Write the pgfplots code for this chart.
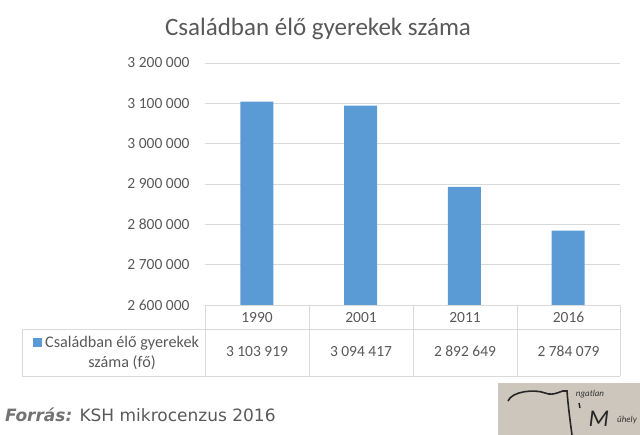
\documentclass[border=0pt]{standalone}
\usepackage{pgfplots}
\pgfplotsset{compat=1.18}
\usepackage{fontspec}
\setmainfont{Carlito}
\newfontfamily\srcfont{DejaVu Sans}
\definecolor{barblue}{HTML}{5B9BD5}
\definecolor{gridgray}{HTML}{D9D9D9}
\definecolor{txtgray}{HTML}{595959}
\definecolor{logobg}{HTML}{CDC6BC}
\begin{document}
\begin{tikzpicture}[x=1pt,y=1pt]
\path[use as bounding box] (0,0) rectangle (640,435);
\begin{axis}[
  at={(205pt,130pt)}, anchor=south west,
  scale only axis, width=415pt, height=242pt,
  xmin=-0.5, xmax=3.5, ymin=2600000, ymax=3200000,
  ytick={2600000,2700000,2800000,2900000,3000000,3100000,3200000},
  scaled y ticks=false,
  xtick=\empty,
  ymajorgrids, grid style={gridgray, line width=0.8pt},
  axis line style={draw=none},
  major tick length=0pt,
  yticklabel style={font=\fontsize{15.5}{18}\selectfont, text=txtgray, anchor=east, xshift=-12pt},
  yticklabel={\pgfmathprintnumber[fixed,precision=0,1000 sep={\ },assume math mode=true]{\tick}},
  clip=false,
]
\addplot[ybar, bar width=33pt, fill=barblue, draw=none, bar shift=0pt]
  coordinates {(0,3103919) (1,3094417) (2,2892649) (3,2784079)};
\end{axis}
% title
\node[anchor=base, font=\fontsize{25}{30}\selectfont, text=txtgray] at (318,399) {Családban élő gyerekek száma};
% data table
\begin{scope}[draw=gridgray, line width=0.9pt]
\draw (205,130) -- (620,130);
\draw (22,106) -- (620,106);
\draw (22,59) -- (620,59);
\draw (22,106) -- (22,59);
\foreach \xx in {205,309,413,517,620} \draw (\xx,130) -- (\xx,59);
\end{scope}
\begin{scope}[font=\fontsize{15.5}{18}\selectfont, text=txtgray]
\node[anchor=base] at (257,112) {1990};
\node[anchor=base] at (361,112) {2001};
\node[anchor=base] at (465,112) {2011};
\node[anchor=base] at (568.5,112) {2016};
\node[anchor=base] at (257,78) {3 103 919};
\node[anchor=base] at (361,78) {3 094 417};
\node[anchor=base] at (465,78) {2 892 649};
\node[anchor=base] at (568.5,78) {2 784 079};
\fill[barblue] (33,88) rectangle (41.5,96.5);
\node[anchor=base west, inner sep=0pt, font=\fontsize{16.2}{18}\selectfont] at (45,87) {Családban élő gyerekek};
\node[anchor=base, font=\fontsize{16.2}{18}\selectfont] at (122,67) {száma (fő)};
\end{scope}
% source
\node[anchor=base west, inner sep=0pt, font=\srcfont\fontsize{17}{20}\selectfont, text=txtgray] at (5,13)
  {{\bfseries\itshape\color{gray!90!black}Forrás:} KSH mikrocenzus 2016};
% logo placeholder
\fill[logobg] (498,0) rectangle (640,52);
\draw[line width=1.6pt, black!85] (508,34) .. controls (512,44) and (535,46) .. (545,42) .. controls (555,38) and (562,46) .. (567,44) .. controls (568,30) and (570,15) .. (572,0);
\node[font=\itshape\fontsize{9}{10}\selectfont, black!80] at (590,41) {ngatlan};
\draw[line width=1.4pt, black!85] (579,32) -- (580,27);
\node[anchor=base, inner sep=0pt, font=\itshape\fontsize{24}{26}\selectfont, black!85] at (599,8) {M};
\node[font=\itshape\fontsize{9}{10}\selectfont, black!80] at (627,15) {űhely};
\end{tikzpicture}
\end{document}
